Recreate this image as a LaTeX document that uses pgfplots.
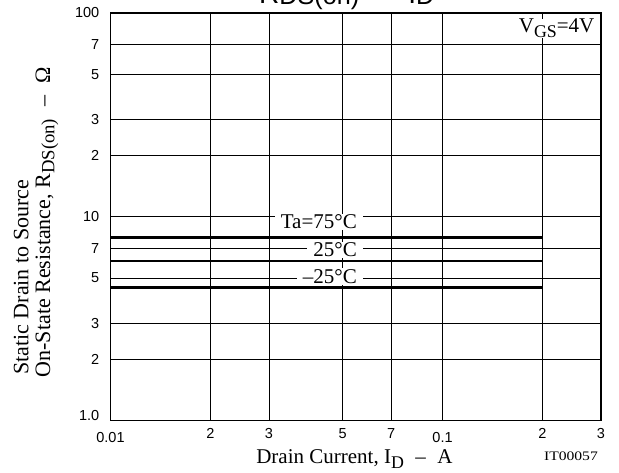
\documentclass[border=0pt]{standalone}
\usepackage{fontspec}
\setmainfont{Liberation Serif}
\setsansfont{Liberation Sans}
\usepackage{graphicx}
\usepackage{pgfplots}
\pgfplotsset{compat=1.18}
\newcommand{\sub}[1]{\raisebox{-4.5pt}{\scalebox{0.85}{#1}}}
\newcommand{\tsub}[1]{\raisebox{-1pt}{\scalebox{0.9}{#1}}}
\begin{document}
\begin{tikzpicture}
\begin{axis}[
  at={(110.5pt,52.5pt)}, anchor=south west,
  scale only axis, width=490.5pt, height=407.5pt,
  xmode=log, ymode=log,
  xmin=0.01, xmax=0.3, ymin=1, ymax=100,
  xtick={0.02,0.03,0.05,0.07,0.2,0.3},
  xticklabels={2,3,5,7,2,3},
  extra x ticks={0.01,0.1},
  extra x tick labels={0.01,0.1},
  extra x tick style={grid=major, xticklabel style={yshift=-3.7pt}},
  ytick={2,3,5,7,10,20,30,50,70,100},
  yticklabels={2,3,5,7,10,2,3,5,7,100},
  extra y ticks={1},
  extra y tick labels={1.0},
  extra y tick style={grid=major, yticklabel style={yshift=4.5pt}},
  grid=major,
  major grid style={line width=0.75pt, black},
  major tick length=0pt,
  axis line style={line width=1.1pt},
  tick label style={font=\sffamily\fontsize{14.5}{14.5}\selectfont},
  xticklabel style={anchor=north, inner sep=0pt, yshift=-7.5pt},
  yticklabel style={anchor=east, inner sep=0pt, xshift=-11pt},
  /pgf/number format/assume math mode=true,
]
\addplot[black, line width=2.5pt, no marks] coordinates {(0.01,7.9) (0.2,7.9)};
\addplot[black, line width=2.5pt, no marks] coordinates {(0.01,6.05) (0.2,6.05)};
\addplot[black, line width=2.5pt, no marks] coordinates {(0.01,4.5) (0.2,4.5)};
\node[anchor=base east, fill=white, inner xsep=6pt, inner ysep=1pt, font=\fontsize{21}{21}\selectfont] at (axis cs:0.0576,8.71) {Ta=75°C};
\node[anchor=base east, fill=white, inner xsep=6pt, inner ysep=1pt, font=\fontsize{21}{21}\selectfont] at (axis cs:0.0576,6.37) {25°C};
\node[anchor=base east, fill=white, inner xsep=6pt, inner ysep=1pt, font=\fontsize{21}{21}\selectfont] at (axis cs:0.0576,4.71) {–25°C};
\node[anchor=base east, fill=white, inner sep=0.5pt, font=\fontsize{21}{21}\selectfont] at (axis cs:0.2879,79.8) {V\sub{GS}=4V};
\end{axis}
% y label (two lines, left aligned, rotated)
\node[rotate=90, anchor=base west, inner sep=0pt, font=\fontsize{22}{22}\selectfont] at (28.3pt,98pt) {Static Drain to Source};
\node[rotate=90, anchor=base west, inner sep=0pt, font=\fontsize{22}{22}\selectfont] at (50pt,95.5pt) {On-State Resistance, R\sub{DS(on)}\hspace{0.55em}–\hspace{0.55em}Ω};
% x label
\node[anchor=base, inner sep=0pt, font=\fontsize{21}{21}\selectfont] at (354.5pt,9pt) {Drain Current, I\sub{D}\hspace{0.55em}–\hspace{0.55em}A};
% code
\node[anchor=base east, inner sep=0pt, font=\fontsize{13}{13}\selectfont] at (598pt,12pt) {\scalebox{1.2}[1]{IT00057}};
% title (cut off at top)
\node[anchor=base west, inner sep=0pt, font=\sffamily\fontsize{28}{28}\selectfont] at (259pt,469.5pt) {R\tsub{DS(on)}\hspace{0.6em}–\hspace{0.6em}I\tsub{D}};
\pgfresetboundingbox
\path[use as bounding box] (0,0) rectangle (619pt,473pt);
\end{tikzpicture}
\end{document}
